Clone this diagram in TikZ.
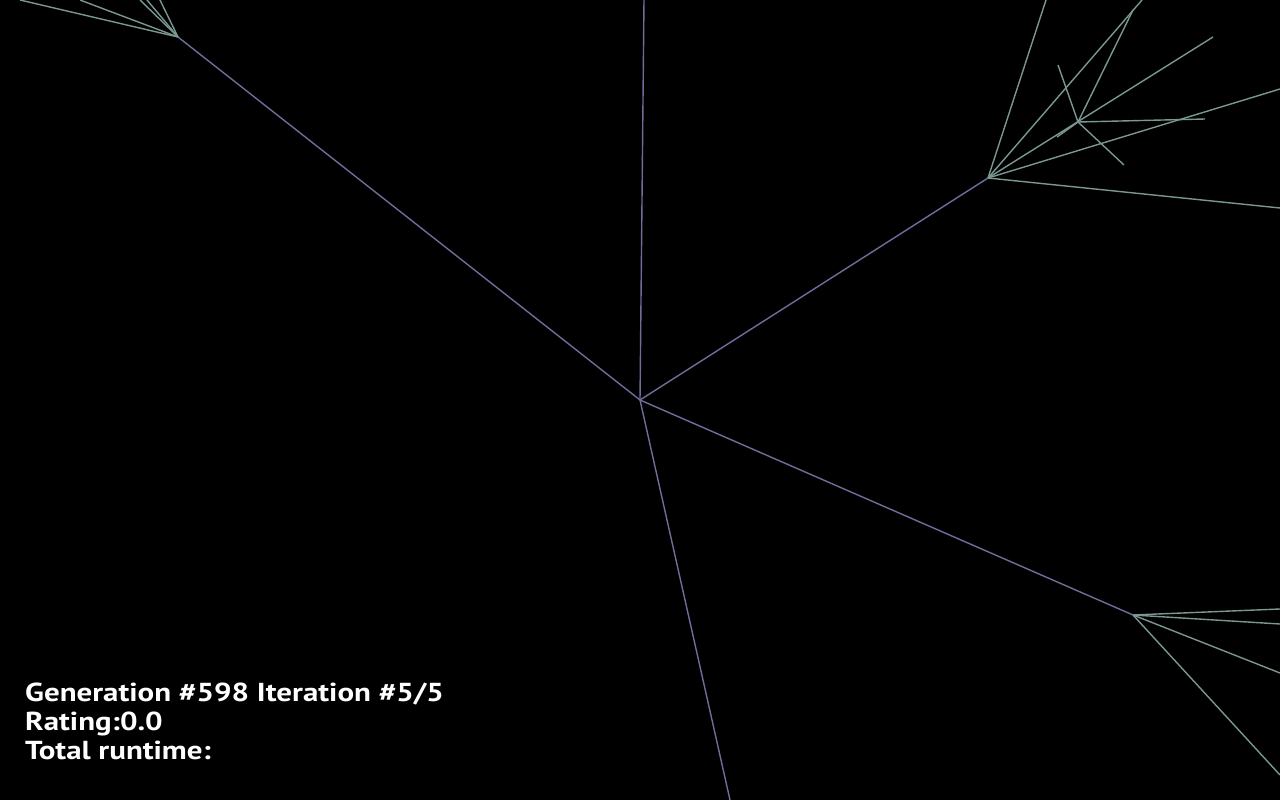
\documentclass[tikz,border=0pt]{standalone}
\usepackage{fontspec}
\setmainfont{PT Sans}
\definecolor{trunk}{HTML}{6E6E9C}
\definecolor{twig}{HTML}{7A9792}
\newcommand{\hudwide}[1]{\scalebox{1.19}[1]{#1}}
\tikzset{
  trunkline/.style={draw=trunk, line width=1.4pt},
  twigline/.style={draw=twig, line width=1.4pt},
  hudtext/.style={anchor=base west, inner sep=0pt, text=white, font=\bfseries\fontsize{26}{29}\selectfont}
}
\begin{document}
\begin{tikzpicture}[x=1pt,y=-1pt]
\fill[black] (0,0) rectangle (1280,800);
\useasboundingbox (0,0) rectangle (1280,800);
\clip (0,0) rectangle (1280,800);
% hubs
\coordinate (c) at (640,400);
\coordinate (tl) at (178,37);
\coordinate (tr) at (988,178);
\coordinate (sub) at (1078,122);
\coordinate (br) at (1133,615);
% trunk ends
\coordinate (top) at (644,0);
\coordinate (bot) at (730,800);
% top-left twig ends
\coordinate (tl1) at (20,0);
\coordinate (tl2) at (80,0);
\coordinate (tl3) at (140,0);
\coordinate (tl4) at (147,0);
\coordinate (tl5) at (160,0);
% top-right twig ends
\coordinate (tr1) at (1046,0);
\coordinate (tr2) at (1142,0);
\coordinate (tr3) at (1213,37);
\coordinate (tr4) at (1280,89);
\coordinate (tr5) at (1280,208);
% sub-hub twig ends
\coordinate (s1) at (1133,10);
\coordinate (s2) at (1058,65);
\coordinate (s3) at (1205,119);
\coordinate (s4) at (1124,165);
\coordinate (s5) at (1057,137);
% bottom-right twig ends
\coordinate (br1) at (1280,609);
\coordinate (br2) at (1280,624);
\coordinate (br3) at (1280,673);
\coordinate (br4) at (1280,775);
% twigs
\foreach \e in {tl1,tl2,tl3,tl4,tl5} \draw[twigline] (tl) -- (\e);
\foreach \e in {tr1,tr2,tr3,tr4,tr5} \draw[twigline] (tr) -- (\e);
\foreach \e in {s1,s2,s3,s4,s5} \draw[twigline] (sub) -- (\e);
\foreach \e in {br1,br2,br3,br4} \draw[twigline] (br) -- (\e);
% trunks
\foreach \e in {tl,top,tr,br,bot} \draw[trunkline] (c) -- (\e);
% text
\node[hudtext] (l1) at (25,701) {\hudwide{Generation \#598 Iteration \#5/5}};
\node[hudtext] (l2) at (25,730) {\hudwide{Rating:0.0}};
\node[hudtext] (l3) at (25,759) {\hudwide{Total runtime:}};
\end{tikzpicture}
\end{document}
